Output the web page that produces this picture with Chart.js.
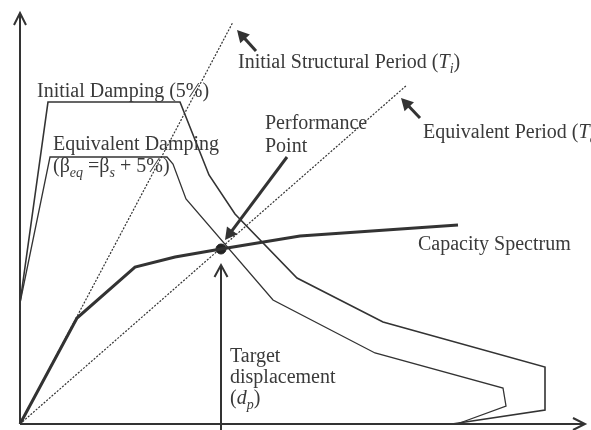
<!DOCTYPE html>
<html>
<head>
<meta charset="utf-8">
<script src="https://cdn.jsdelivr.net/npm/chart.js@4.4.1/dist/chart.umd.min.js"></script>
<style>
  html, body { margin: 0; padding: 0; background: #fff; }
  #wrap { width: 591px; height: 430px; position: relative; }
</style>
</head>
<body>
<div id="wrap"><canvas id="chart"></canvas></div>
<script>
// Schematic capacity-spectrum diagram, arbitrary units (Sd across, Sa up)
const initialDamping    = [[0,121],[28,322],[160,322],[189,249],[215,210],[277,146],[363,102],[525,57],[525,14],[432,0]];
const equivalentDamping = [[0,121],[30,267],[147,267],[153,260],[166,225],[253,124],[355,71],[483,36],[486,18],[437,0]];
const capacitySpectrum  = [[0,0],[57,106],[115,157],[155,167],[201,175],[280,188],[438,199]];
const initialPeriod     = [[0,0],[213,402]];
const equivalentPeriod  = [[0,0],[387,339]];
const performancePoint  = [[201,175]];

// arrows: [tailX, tailY, tipX, tipY, head style]
const axisArrows    = [[0,0,0,411,'open'],[0,0,565,0,'open']];
const pointerArrows = [[236,373,217,394,'filled'],[400,306,381,326,'filled'],[267,267,205,184,'filled'],[201,-6,201,159,'open']];

// labels: [x, y, rich text parts]
const labels = [
  [218, 361, [['Initial Structural Period ('], ['T','i'], ['i','is'], [')']]],
  [403, 291, [['Equivalent Period ('], ['T','i'], ['eq','is'], [')']]],
  [17, 332, [['Initial Damping (5%)']]],
  [33, 279, [['Equivalent Damping']]],
  [33, 257, [['(β'], ['eq','is'], [' =β'], ['s','is'], [' + 5%)']]],
  [245, 300, [['Performance']]],
  [245, 277, [['Point']]],
  [398, 179, [['Capacity Spectrum']]],
  [210, 67, [['Target']]],
  [210, 46, [['displacement']]],
  [210, 25, [['('], ['d','i'], ['p','is'], [')']]]
];

const INK = '#333333';
const TEXT = '#3a3a3a';
const toXY = pts => pts.map(([x, y]) => ({ x, y }));

const overlay = {
  id: 'overlay',
  afterDatasetsDraw(chart) {
    const { ctx, scales: { x, y } } = chart;
    const px = v => x.getPixelForValue(v);
    const py = v => y.getPixelForValue(v);
    ctx.save();
    ctx.strokeStyle = INK;
    ctx.fillStyle = INK;
    ctx.lineCap = 'butt';

    const arrow = (a, width, len, half) => {
      const [x0, y0, x1, y1, style] = a;
      const sx = px(x0), sy = py(y0), ex = px(x1), ey = py(y1);
      const ang = Math.atan2(ey - sy, ex - sx);
      ctx.lineWidth = width;
      ctx.beginPath();
      ctx.moveTo(sx, sy);
      ctx.lineTo(style === 'filled' ? ex - Math.cos(ang) * len * 0.8 : ex, style === 'filled' ? ey - Math.sin(ang) * len * 0.8 : ey);
      ctx.stroke();
      const bx = ex - Math.cos(ang) * len, by = ey - Math.sin(ang) * len;
      const nx = -Math.sin(ang) * half, ny = Math.cos(ang) * half;
      ctx.beginPath();
      ctx.moveTo(bx + nx, by + ny);
      ctx.lineTo(ex, ey);
      ctx.lineTo(bx - nx, by - ny);
      if (style === 'filled') { ctx.closePath(); ctx.fill(); } else { ctx.stroke(); }
    };
    axisArrows.forEach(a => arrow(a, 2, 12, 6));
    pointerArrows.forEach(a => arrow(a, a[4] === 'open' ? 2 : 3, a[4] === 'open' ? 12 : 12, 6.5));

    ctx.fillStyle = TEXT;
    ctx.textBaseline = 'middle';
    labels.forEach(([lx, ly, parts]) => {
      let cx = px(lx);
      const cy = py(ly);
      parts.forEach(([t, st]) => {
        const italic = st && st.includes('i');
        const sub = st && st.includes('s');
        ctx.font = `${italic ? 'italic ' : ''}${sub ? 14 : 20}px "Liberation Serif", "DejaVu Serif", serif`;
        ctx.fillText(t, cx, sub ? cy + 6 : cy);
        cx += ctx.measureText(t).width;
      });
    });
    ctx.restore();
  }
};

new Chart(document.getElementById('chart'), {
  type: 'scatter',
  data: {
    datasets: [
      { data: toXY(initialDamping), showLine: true, borderColor: INK, borderWidth: 1.6, pointRadius: 0, tension: 0 },
      { data: toXY(equivalentDamping), showLine: true, borderColor: INK, borderWidth: 1.3, pointRadius: 0, tension: 0 },
      { data: toXY(initialPeriod), showLine: true, borderColor: '#333', borderWidth: 1.2, borderDash: [2, 1.5], pointRadius: 0 },
      { data: toXY(equivalentPeriod), showLine: true, borderColor: '#333', borderWidth: 1.2, borderDash: [2, 1.5], pointRadius: 0 },
      { data: toXY(capacitySpectrum), showLine: true, borderColor: INK, borderWidth: 3, pointRadius: 0, tension: 0 },
      { data: toXY(performancePoint), showLine: false, pointRadius: 5, pointBackgroundColor: '#222', pointBorderColor: '#222' }
    ]
  },
  options: {
    responsive: true,
    maintainAspectRatio: false,
    animation: false,
    layout: { padding: 0, autoPadding: false },
    plugins: { legend: { display: false }, tooltip: { enabled: false } },
    scales: {
      x: { type: 'linear', min: -20, max: 571, display: false },
      y: { type: 'linear', min: -6, max: 424, display: false }
    }
  },
  plugins: [overlay]
});
</script>
</body>
</html>
